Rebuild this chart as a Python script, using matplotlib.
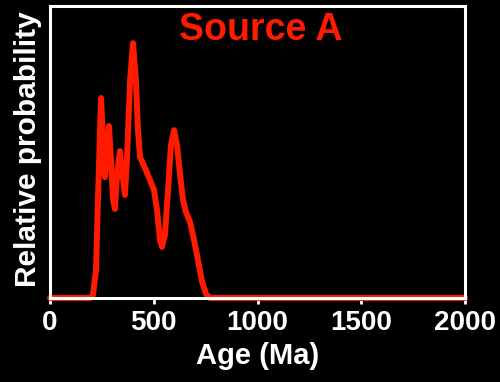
import matplotlib.pyplot as plt

plt.rcParams['font.family'] = ['Liberation Sans', 'DejaVu Sans']
plt.rcParams['font.weight'] = 'bold'
plt.rcParams['axes.labelweight'] = 'bold'

# age (Ma) and relative probability
ages = [0, 193, 207, 222, 231, 246, 255, 265, 275, 284, 294, 304, 313, 323,
        337, 347, 361, 371, 386, 400, 414, 424, 434, 458, 482, 501, 516, 530,
        540, 554, 569, 583, 598, 612, 627, 641, 655, 675, 694, 713, 733, 752,
        771, 2000]
prob = [0, 0, 0.01, 0.096, 0.336, 0.685, 0.541, 0.414, 0.507, 0.589, 0.473,
        0.336, 0.305, 0.421, 0.503, 0.438, 0.353, 0.473, 0.747, 0.873, 0.747,
        0.575, 0.483, 0.445, 0.404, 0.37, 0.301, 0.199, 0.175, 0.216, 0.37,
        0.524, 0.575, 0.524, 0.421, 0.336, 0.295, 0.26, 0.199, 0.13, 0.055,
        0.014, 0, 0]
xticks = [0, 500, 1000, 1500, 2000]

red = '#ff1a00'

fig = plt.figure(figsize=(5, 3.82), dpi=100, facecolor='black')
ax = fig.add_axes([0.1, 0.22, 0.83, 0.764], facecolor='black')

ax.plot(ages, prob, color=red, lw=4.3, solid_joinstyle='round',
        solid_capstyle='round', clip_on=False)

ax.set_xlim(0, 2000)
ax.set_ylim(0, 1)
ax.set_xticks(xticks)
ax.set_yticks([])
ax.tick_params(axis='x', colors='white', labelsize=20, length=4, width=2, pad=5)

for s in ax.spines.values():
    s.set_color('white')
    s.set_linewidth(2.2)

ax.set_xlabel('Age (Ma)', color='white', fontsize=21, fontweight='bold',
              labelpad=4)
ax.set_ylabel('Relative probability', color='white', fontsize=21.5,
              fontweight='bold')
ax.yaxis.set_label_coords(-0.02, 0.51)

ax.text(0.508, 0.98, 'Source A', color=red, fontsize=27, fontweight='bold',
        ha='center', va='top', transform=ax.transAxes)

plt.savefig('out.png', dpi=100, facecolor='black')
